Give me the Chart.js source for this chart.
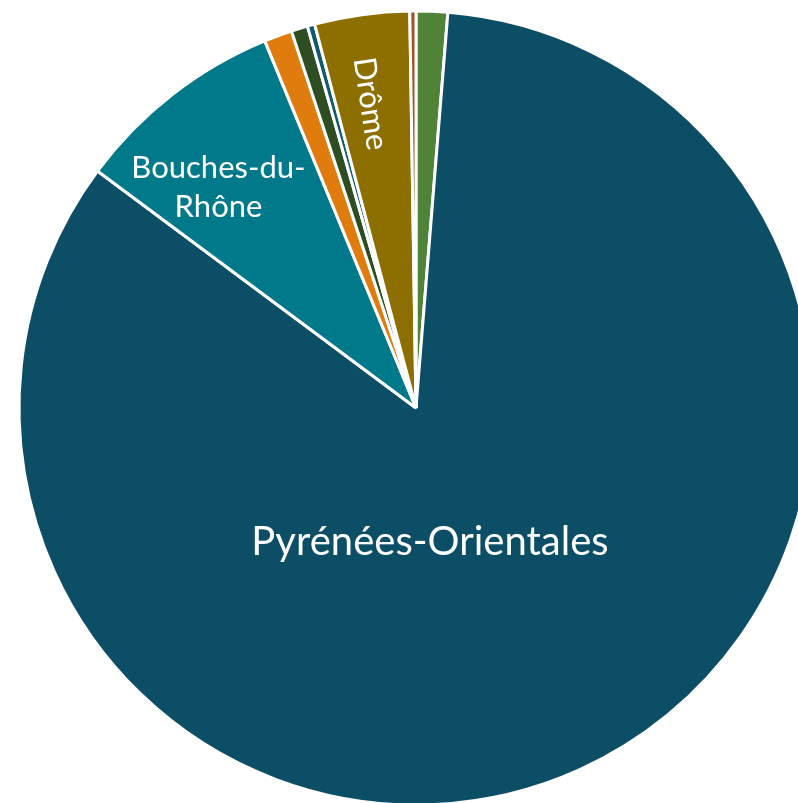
<!DOCTYPE html>
<html lang="fr">
<head>
<meta charset="utf-8">
<title>Répartition par département</title>
<script src="https://cdn.jsdelivr.net/npm/chart.js@4/dist/chart.umd.min.js"></script>
<style>
  html, body { margin: 0; padding: 0; background: #ffffff; overflow: hidden; }
  #wrap { position: absolute; left: 0; top: 0; width: 832px; height: 816px; }
</style>
</head>
<body>
<div id="wrap"><canvas id="pie" width="832" height="816"></canvas></div>
<script>
// Share of the total by département (%)
const departements = ["Gard", "Pyrénées-Orientales", "Bouches-du-Rhône", "Vaucluse", "Hérault", "Ardèche", "Drôme", "Aude"];
const parts = [1.28, 83.9, 8.6, 1.14, 0.67, 0.3, 3.86, 0.25];
const couleurs = ["#508238", "#0d4e67", "#007a8a", "#e07c0e", "#2e4d22", "#0d5a6e", "#8d6e00", "#a0522d"];

// Slice labels: text lines, position inside the slice (fraction of the arc,
// fraction of the radius), font size and whether the text follows the radius.
const etiquettes = {
  "Pyrénées-Orientales": { lines: ["Pyrénées-Orientales"], at: 0.561, rf: 0.34, size: 40, radial: false },
  "Bouches-du-Rhône": { lines: ["Bouches-du-", "Rhône"], at: 0.37, rf: 0.745, size: 31, radial: false },
  "Drôme": { lines: ["Drôme"], at: 0.45, rf: 0.775, size: 31, radial: true }
};

const labelPlugin = {
  id: "sliceLabels",
  afterDatasetsDraw(chart) {
    const ctx = chart.ctx;
    const meta = chart.getDatasetMeta(0);
    meta.data.forEach((arc, i) => {
      const cfg = etiquettes[chart.data.labels[i]];
      if (!cfg) return;
      const p = arc.getProps(["x", "y", "startAngle", "endAngle", "outerRadius"], true);
      const a = p.startAngle + cfg.at * (p.endAngle - p.startAngle);
      const r = cfg.rf * p.outerRadius;
      const x = p.x + Math.cos(a) * r;
      const y = p.y + Math.sin(a) * r;
      ctx.save();
      ctx.translate(x, y);
      if (cfg.radial) ctx.rotate(a + Math.PI);
      ctx.fillStyle = "#ffffff";
      ctx.font = cfg.size + "px Lato, 'Noto Sans', sans-serif";
      ctx.textAlign = "center";
      ctx.textBaseline = "middle";
      const lh = cfg.size * 1.25;
      const y0 = -(cfg.lines.length - 1) * lh / 2;
      cfg.lines.forEach((t, k) => ctx.fillText(t, 0, y0 + k * lh));
      ctx.restore();
    });
  }
};

new Chart(document.getElementById("pie"), {
  type: "pie",
  data: {
    labels: departements,
    datasets: [{
      data: parts,
      backgroundColor: couleurs,
      borderColor: "#ffffff",
      borderWidth: 3,
      radius: 397
    }]
  },
  options: {
    responsive: false,
    animation: false,
    layout: { padding: 0 },
    plugins: {
      legend: { display: false },
      tooltip: { enabled: false }
    }
  },
  plugins: [labelPlugin]
});
</script>
</body>
</html>
